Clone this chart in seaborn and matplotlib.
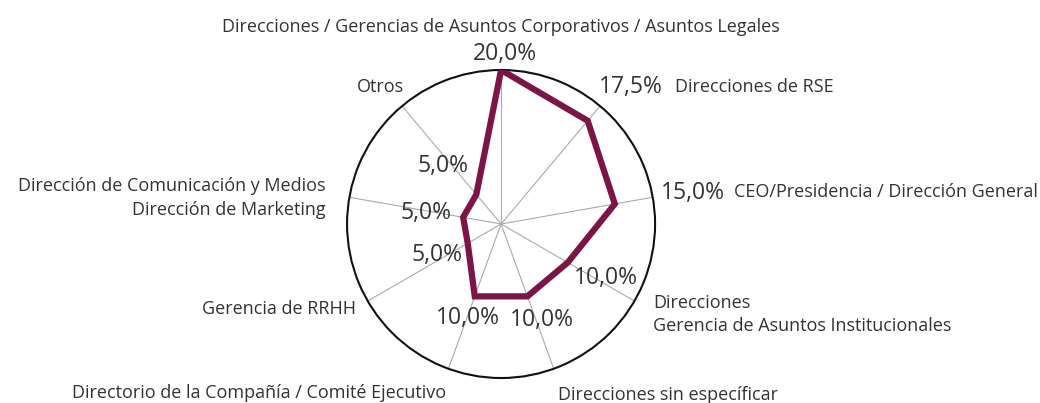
import numpy as np
import pandas as pd
import matplotlib
matplotlib.use("Agg")
import matplotlib.pyplot as plt
import seaborn as sns

# categorías (sentido horario desde arriba) y porcentajes
categorias = [
    "Direcciones / Gerencias de Asuntos Corporativos / Asuntos Legales",
    "Direcciones de RSE",
    "CEO/Presidencia / Dirección General",
    "Direcciones\nGerencia de Asuntos Institucionales",
    "Direcciones sin específicar",
    "Directorio de la Compañía / Comité Ejecutivo",
    "Gerencia de RRHH",
    "Dirección de Comunicación y Medios\nDirección de Marketing",
    "Otros",
]
valores = [20.0, 17.5, 15.0, 10.0, 10.0, 10.0, 5.0, 5.0, 5.0]
etiquetas_valor = ["20,0%", "17,5%", "15,0%", "10,0%", "10,0%", "10,0%", "5,0%", "5,0%", "5,0%"]

# posición de los textos: (ángulo en grados, radio, ha)
pos_valor = [(1.4, 22.1), (43.5, 24.5), (80.8, 25.3), (117.4, 15.3), (156.9, 13.6),
             (199.5, 12.9), (244, 9.2), (278.5, 9.8), (315, 10.7)]
pos_cat = [(0, 25.6, "center"), (51.8, 28.8, "left"), (82.1, 30.6, "left"),
           (120.8, 23.0, "left"), (161.5, 23.4, "left"), (198.1, 23.1, "right"),
           (239.7, 21.8, "right"), (278.5, 23.0, "right"), (318.6, 23.7, "center")]

sns.set_theme(style="white")
plt.rcParams["font.family"] = ["Open Sans", "DejaVu Sans"]

color = "#7B1548"
n = len(categorias)
angulos = np.linspace(0, 2 * np.pi, n, endpoint=False)

df = pd.DataFrame({"theta": np.append(angulos, angulos[0]),
                   "valor": np.append(valores, valores[0])})

fig = plt.figure(figsize=(10.4, 4.03), dpi=100)
ax = fig.add_axes([0.3337, 0.062, 0.2962, 0.7643], projection="polar")
ax.set_theta_zero_location("N")
ax.set_theta_direction(-1)

sns.lineplot(data=df, x="theta", y="valor", ax=ax, sort=False, color=color,
             linewidth=4.5, estimator=None, zorder=5)
ax.lines[-1].set_solid_joinstyle("miter")

ax.set_ylim(0, 20)
ax.set_yticks([])
ax.set_xticks(angulos)
ax.set_xticklabels([])
ax.xaxis.grid(True, color="#aaaaaa", linewidth=0.8)
ax.yaxis.grid(False)
ax.spines["polar"].set_color("#111111")
ax.spines["polar"].set_linewidth(1.5)
ax.set_xlabel("")
ax.set_ylabel("")

for (ang, r), txt in zip(pos_valor, etiquetas_valor):
    ax.text(np.deg2rad(ang), r, txt, ha="center", va="center", fontsize=16.5,
            color="#333333", clip_on=False, zorder=6)

for (ang, r, ha), txt in zip(pos_cat, categorias):
    ax.text(np.deg2rad(ang), r, txt, ha=ha, va="center", fontsize=13,
            color="#333333", clip_on=False, linespacing=1.4,
            multialignment=ha)

fig.savefig("out.png", dpi=100)
